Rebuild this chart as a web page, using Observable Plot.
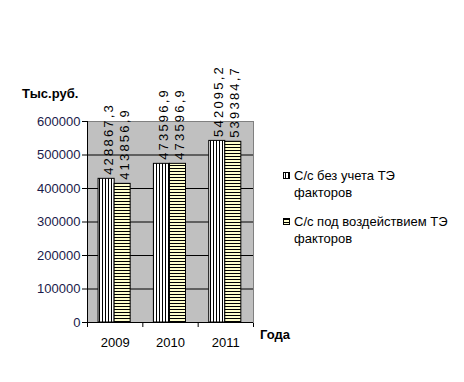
<!DOCTYPE html>
<html><head><meta charset="utf-8">
<script src="https://cdn.jsdelivr.net/npm/d3@7"></script>
<script src="https://cdn.jsdelivr.net/npm/@observablehq/plot@0.6"></script>
<style>
body{margin:0;background:#fff}
svg{display:block}
</style>
</head><body><div id="chart"></div>
<script>
const years = [2009, 2010, 2011];
const seriesNames = [["С/с без учета ТЭ", "факторов"], ["С/с под воздействием ТЭ", "факторов"]];
const seriesA = [428867.3, 473596.9, 542095.2];
const seriesB = [413856.9, 473596.9, 539384.7];
const yTicks = [0, 100000, 200000, 300000, 400000, 500000, 600000];
const yTitle = "Тыс.руб.";
const xTitle = "Года";

const rows = years.flatMap((yr, i) => [
  {i, year: yr, s: 0, v: seriesA[i]},
  {i, year: yr, s: 1, v: seriesB[i]}
]);
const x1 = d => d.i + 0.2 + d.s * 0.29;
const x2 = d => d.i + 0.49 + d.s * 0.29;
const fmt = v => v.toFixed(1).replace(".", ",");

const chart = Plot.plot({
  width: 464, height: 382,
  marginLeft: 87, marginRight: 211, marginTop: 121, marginBottom: 60,
  style: {fontFamily: "'Liberation Sans', Arial, sans-serif", fontSize: "13px", color: "#000", background: "#fff", overflow: "visible"},
  x: {domain: [0, 3], ticks: 3, tickFormat: () => "", tickSize: 5, label: null},
  y: {domain: [0, 600000], ticks: yTicks, tickSize: 5, tickPadding: 2, tickFormat: d3.format("d"), label: null},
  marks: [
    Plot.frame({fill: "#c0c0c0", stroke: "#808080"}),
    Plot.ruleY(yTicks.filter(t => t > 0 && t < 600000), {stroke: "#000", strokeWidth: 1}),
    Plot.rectY(rows.filter(d => d.s === 0), {x1, x2, y1: 0, y2: "v", fill: "url(#patA)", stroke: "#000", strokeWidth: 1}),
    Plot.rectY(rows.filter(d => d.s === 1), {x1, x2, y1: 0, y2: "v", fill: "url(#patB)", stroke: "#000", strokeWidth: 1}),
    Plot.ruleX([0], {stroke: "#000"}),
    Plot.ruleY([0], {stroke: "#000"}),
    Plot.text(rows, {x: d => (x1(d) + x2(d)) / 2, y: "v", text: d => fmt(d.v), rotate: -90, textAnchor: "start", dx: 2, dy: -4, fontSize: 13, className: "vlab"}),
    Plot.text(years, {x: (d, i) => i + 0.5, frameAnchor: "bottom", dy: 24, text: d => String(d), fontSize: 13})
  ]
});

document.getElementById("chart").appendChild(chart);
const svg = d3.select(chart);
svg.selectAll(".vlab text").style("letter-spacing", "2.2px");
svg.selectAll("[aria-label='y-axis tick label'] text, [aria-label='y-axis tick label']").attr("fill", "#1a1a4a");

const defs = svg.insert("defs", ":first-child");
const pA = defs.append("pattern").attr("id", "patA").attr("patternUnits", "userSpaceOnUse").attr("width", 3).attr("height", 3);
pA.append("rect").attr("width", 3).attr("height", 3).attr("fill", "#fff");
pA.append("rect").attr("x", 0).attr("width", 1).attr("height", 3).attr("fill", "#000");
const pB = defs.append("pattern").attr("id", "patB").attr("patternUnits", "userSpaceOnUse").attr("width", 3).attr("height", 3);
pB.append("rect").attr("width", 3).attr("height", 3).attr("fill", "#ffffcc");
pB.append("rect").attr("y", 0).attr("width", 3).attr("height", 1).attr("fill", "#000");

const ff = "'Liberation Sans', Arial, sans-serif";
svg.append("text").attr("x", 22).attr("y", 98).attr("text-anchor", "start").attr("font-family", ff).attr("font-size", 13).attr("font-weight", "bold").text(yTitle);
svg.append("text").attr("x", 260).attr("y", 339).attr("text-anchor", "start").attr("font-family", ff).attr("font-size", 13).attr("font-weight", "bold").text(xTitle);

const legend = svg.append("g").attr("font-family", ff).attr("font-size", 13).attr("text-anchor", "start");
const legY = [172, 218];
seriesNames.forEach((lines, k) => {
  legend.append("rect").attr("x", 283.5).attr("y", legY[k] + 0.5).attr("width", 6).attr("height", 6)
    .attr("fill", k === 0 ? "url(#patA)" : "url(#patB)").attr("stroke", "#000");
  lines.forEach((t, j) => {
    legend.append("text").attr("x", 294).attr("y", legY[k] + 8 + j * 17).text(t);
  });
});
</script>
</body></html>
